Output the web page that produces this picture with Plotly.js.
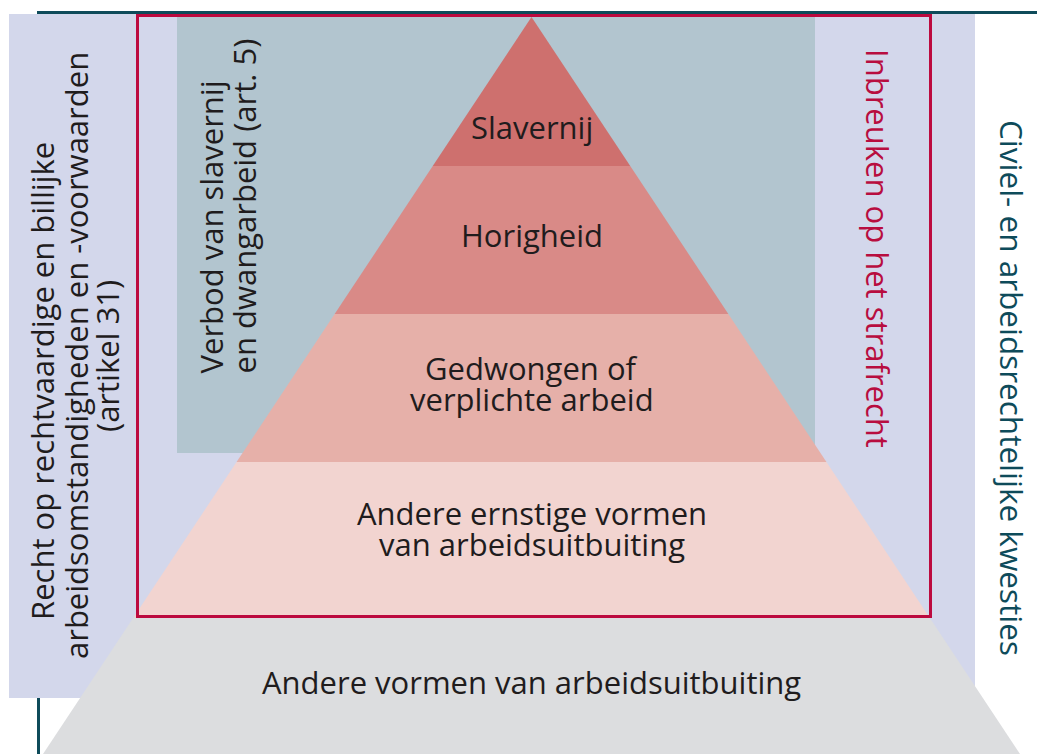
<!DOCTYPE html>
<html>
<head>
<meta charset="utf-8">
<script src="https://cdn.plot.ly/plotly-3.0.1.min.js"></script>
<style>html,body{margin:0;padding:0;background:#fff}#chart{width:1037px;height:754px}</style>
</head>
<body>
<div id="chart"></div>
<script>
// Pyramid levels (top to bottom)
const levelLabels = [
  ["Slavernij"],
  ["Horigheid"],
  ["Gedwongen of", "verplichte arbeid"],
  ["Andere ernstige vormen", "van arbeidsuitbuiting"],
  ["Andere vormen van arbeidsuitbuiting"]
];
const levelBounds = [17, 166, 314, 462, 617, 754]; // level boundaries (y, px units)
const levelLabelY = [127, 235, 383, 528, 682];
const levelColors = ["#ce706e", "#d98a87", "#e6b0a9", "#f2d4d0", "#dcdddf"];

// Side labels
const leftLabel = ["Recht op rechtvaardige en billijke", "arbeidsomstandigheden en -voorwaarden", "(artikel 31)"];
const verbodLabel = ["Verbod van slavernij", "en dwangarbeid (art. 5)"];
const strafLabel = ["Inbreuken op het strafrecht"];
const civielLabel = ["Civiel- en arbeidsrechtelijke kwesties"];

const apexX = 531.5, apexY = 17, slope = 488.5 / 737;
const halfW = y => (y - apexY) * slope;

const traces = levelLabels.map((lab, i) => {
  const y0 = levelBounds[i], y1 = levelBounds[i + 1];
  const xs = [apexX - halfW(y0), apexX + halfW(y0), apexX + halfW(y1), apexX - halfW(y1), apexX - halfW(y0)];
  const ys = [y0, y0, y1, y1, y0];
  return {x: xs, y: ys, type: 'scatter', mode: 'lines', fill: 'toself', fillcolor: levelColors[i],
          line: {width: 0, color: levelColors[i]}, hoverinfo: 'skip', showlegend: false, name: lab.join(' ')};
});

const font = "'Open Sans', 'Noto Sans', sans-serif";
const FS = 31;
const ann = [];
const LH = 31;
levelLabels.forEach((lines, i) => {
  lines.forEach((t, j) => {
    ann.push({x: apexX, y: levelLabelY[i] + (j - (lines.length - 1) / 2) * LH, text: t, showarrow: false,
      xanchor: 'center', yanchor: 'middle', font: {family: font, size: FS, color: '#1f1c1d'}});
  });
});
function vertical(lines, xs, ys, angle, color, yanchor, size) {
  lines.forEach((t, j) => {
    ann.push({x: xs[j], y: ys[j], text: t, showarrow: false, textangle: angle,
      xanchor: 'center', yanchor: yanchor, font: {family: font, size: size, color: color}});
  });
}
vertical(leftLabel, [42, 76, 107], [381, 356, 356], -90, '#1f1c1d', 'middle', FS);
vertical(verbodLabel, [210, 243], [376, 376], -90, '#1f1c1d', 'bottom', FS);
vertical(strafLabel, [878], [248], 90, '#b80d3f', 'middle', FS);
vertical(civielLabel, [1013], [388], 90, '#0e4b5a', 'middle', 31.5);

const shapes = [
  {type: 'line', x0: 38.5, x1: 38.5, y0: 12, y1: 754, line: {color: '#0e4b5a', width: 3}, layer: 'below'},
  {type: 'rect', x0: 9, x1: 975, y0: 14, y1: 698, fillcolor: '#d3d7eb', line: {width: 0}, layer: 'below'},
  {type: 'rect', x0: 177, x1: 815, y0: 16, y1: 453, fillcolor: '#b2c5cf', line: {width: 0}, layer: 'below'},
  {type: 'rect', x0: 137.5, x1: 930.5, y0: 15.5, y1: 616.5, fillcolor: 'rgba(0,0,0,0)', line: {color: '#bc0a3f', width: 3}, layer: 'above'},
  {type: 'line', x0: 37, x1: 1037, y0: 12.5, y1: 12.5, line: {color: '#0e4b5a', width: 3}, layer: 'above'}
];

const layout = {
  width: 1037, height: 754,
  margin: {l: 0, r: 0, t: 0, b: 0, pad: 0},
  paper_bgcolor: '#ffffff', plot_bgcolor: '#ffffff',
  xaxis: {range: [0, 1037], visible: false, fixedrange: true},
  yaxis: {range: [754, 0], visible: false, fixedrange: true},
  shapes: shapes,
  annotations: ann,
  showlegend: false
};
Plotly.newPlot('chart', traces, layout, {displayModeBar: false, staticPlot: true});
</script>
</body>
</html>
